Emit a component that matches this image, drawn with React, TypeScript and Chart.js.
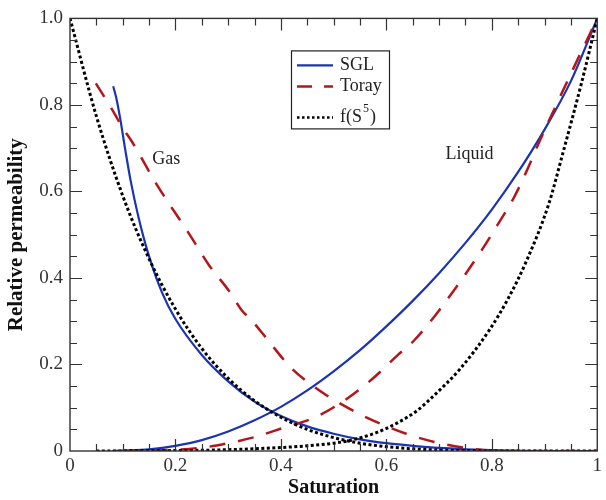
import React, { useEffect, useRef } from "react";
import { Chart, registerables } from "chart.js";

Chart.register(...registerables);

// Saturation / relative permeability readings
const sglGasS = [0.082, 0.088, 0.095, 0.105, 0.115, 0.13, 0.15, 0.175, 0.2, 0.25, 0.3, 0.35, 0.4, 0.45, 0.5, 0.55, 0.6, 0.65, 0.7, 0.75, 0.8, 0.9, 1.0];
const sglGasK = [0.843, 0.815, 0.77, 0.695, 0.625, 0.54, 0.45, 0.365, 0.305, 0.222, 0.161, 0.114, 0.081, 0.057, 0.04, 0.027, 0.018, 0.012, 0.007, 0.004, 0.002, 0.0, 0.0];

const sglLiqS = [0.08, 0.1, 0.15, 0.2, 0.25, 0.3, 0.35, 0.4, 0.45, 0.5, 0.55, 0.6, 0.65, 0.7, 0.75, 0.8, 0.85, 0.9, 0.95, 1.0];
const sglLiqK = [0.0, 0.001, 0.004, 0.012, 0.025, 0.045, 0.071, 0.102, 0.14, 0.184, 0.233, 0.288, 0.347, 0.411, 0.481, 0.558, 0.645, 0.743, 0.855, 1.0];

const torayGasS = [0.049, 0.085, 0.098, 0.117, 0.164, 0.226, 0.264, 0.301, 0.326, 0.343, 0.371, 0.418, 0.467, 0.512, 0.565, 0.635, 0.691, 0.753, 0.815, 0.9, 1.0];
const torayGasK = [0.85, 0.779, 0.75, 0.716, 0.617, 0.502, 0.429, 0.371, 0.325, 0.304, 0.263, 0.194, 0.145, 0.11, 0.076, 0.041, 0.021, 0.007, 0.0, 0.0, 0.0];

const torayLiqS = [0.1, 0.2, 0.264, 0.3, 0.35, 0.408, 0.461, 0.512, 0.571, 0.621, 0.653, 0.7, 0.778, 0.81, 0.842, 0.866, 0.891, 0.955, 1.0];
const torayLiqK = [0.0, 0.003, 0.01, 0.018, 0.032, 0.055, 0.076, 0.11, 0.164, 0.221, 0.256, 0.325, 0.459, 0.521, 0.586, 0.647, 0.717, 0.885, 1.0];

const fGasS = [0, 0.05, 0.1, 0.15, 0.2, 0.25, 0.3, 0.35, 0.4, 0.45, 0.5, 0.55, 0.6, 0.65, 0.7, 0.75, 0.8, 0.9, 1.0];
const fGasK = [1.0, 0.774, 0.59, 0.444, 0.328, 0.237, 0.168, 0.116, 0.078, 0.05, 0.031, 0.018, 0.01, 0.005, 0.002, 0.001, 0.0, 0.0, 0.0];

const fLiqS = [0.05, 0.2, 0.3, 0.4, 0.45, 0.5, 0.533, 0.58, 0.621, 0.659, 0.691, 0.74, 0.795, 0.83, 0.866, 0.908, 0.936, 0.97, 1.0];
const fLiqK = [0.0, 0.001, 0.003, 0.008, 0.012, 0.018, 0.025, 0.042, 0.065, 0.094, 0.129, 0.19, 0.279, 0.35, 0.44, 0.571, 0.694, 0.85, 1.0];

const legendLabels = ["SGL", "Toray", "f(S", "5", ")"];
const regionLabels = ["Gas", "Liquid"];
const xTitle = "Saturation";
const yTitle = "Relative permeability";

const BLUE = "#1a34b2";
const RED = "#b3161b";
const BLACK = "#000000";
const SERIF = '"Liberation Serif", "Times New Roman", serif';

const pts = (xs: number[], ys: number[]) => xs.map((x, i) => ({ x, y: ys[i] }));

const decorPlugin = {
  id: "decor",
  afterDraw(chart: any) {
    const { ctx, chartArea } = chart;
    const { left, right, top, bottom } = chartArea;
    const xs = chart.scales.x;
    const ys = chart.scales.y;
    ctx.save();
    // frame
    ctx.strokeStyle = "#333";
    ctx.lineWidth = 1.4;
    ctx.strokeRect(left, top, right - left, bottom - top);
    // inward ticks
    ctx.lineWidth = 1.2;
    ctx.beginPath();
    for (let i = 1; i < 20; i++) {
      const v = i * 0.05;
      const len = i % 4 === 0 ? 12 : 7;
      const px = Math.round(xs.getPixelForValue(v)) + 0.5;
      const py = Math.round(ys.getPixelForValue(v)) + 0.5;
      ctx.moveTo(px, bottom);
      ctx.lineTo(px, bottom - len);
      ctx.moveTo(px, top);
      ctx.lineTo(px, top + len);
      ctx.moveTo(left, py);
      ctx.lineTo(left + len, py);
      ctx.moveTo(right, py);
      ctx.lineTo(right - len, py);
    }
    ctx.stroke();

    // region labels
    ctx.fillStyle = "#222";
    ctx.font = `18px ${SERIF}`;
    ctx.textAlign = "left";
    ctx.textBaseline = "middle";
    ctx.fillText(regionLabels[0], xs.getPixelForValue(0.156), ys.getPixelForValue(0.675));
    ctx.fillText(regionLabels[1], xs.getPixelForValue(0.712), ys.getPixelForValue(0.687));

    // legend box
    const bx = left + 221;
    const by = top + 32;
    const bw = 98;
    const bh = 78;
    ctx.fillStyle = "#fff";
    ctx.fillRect(bx, by, bw, bh);
    ctx.strokeStyle = "#222";
    ctx.lineWidth = 1.2;
    ctx.strokeRect(bx + 0.5, by + 0.5, bw, bh);
    const rows = [by + 15, by + 36, by + 67];
    const styles = [
      { c: BLUE, w: 2.4, d: [] as number[] },
      { c: RED, w: 2.5, d: [15, 12] },
      { c: BLACK, w: 2.5, d: [2.5, 2.5] },
    ];
    rows.forEach((ry, i) => {
      ctx.beginPath();
      ctx.strokeStyle = styles[i].c;
      ctx.lineWidth = styles[i].w;
      ctx.setLineDash(styles[i].d);
      ctx.moveTo(bx + 6, ry);
      ctx.lineTo(bx + 42, ry);
      ctx.stroke();
    });
    ctx.setLineDash([]);
    ctx.fillStyle = "#222";
    ctx.font = `18px ${SERIF}`;
    ctx.textBaseline = "middle";
    const tx = bx + 49;
    ctx.fillText(legendLabels[0], tx, rows[0]);
    ctx.fillText(legendLabels[1], tx, rows[1]);
    ctx.fillText(legendLabels[2], tx, rows[2]);
    const w1 = ctx.measureText(legendLabels[2]).width;
    ctx.font = `12px ${SERIF}`;
    ctx.fillText(legendLabels[3], tx + w1 + 1, rows[2] - 9);
    const w2 = ctx.measureText(legendLabels[3]).width;
    ctx.font = `18px ${SERIF}`;
    ctx.fillText(legendLabels[4], tx + w1 + w2 + 2, rows[2]);
    ctx.restore();
  },
};

export default function App() {
  const ref = useRef<HTMLCanvasElement | null>(null);
  useEffect(() => {
    document.body.style.margin = "0";
    if (!ref.current) return;
    const lineBase = { pointRadius: 0, fill: false, cubicInterpolationMode: "monotone" as const };
    const chart = new Chart(ref.current, {
      type: "line",
      data: {
        datasets: [
          { ...lineBase, label: "f gas", data: pts(fGasS, fGasK), borderColor: BLACK, borderWidth: 3, borderDash: [3, 2.5] },
          { ...lineBase, label: "f liquid", data: pts(fLiqS, fLiqK), borderColor: BLACK, borderWidth: 3, borderDash: [3, 2.5] },
          { ...lineBase, label: "Toray gas", data: pts(torayGasS, torayGasK), borderColor: RED, borderWidth: 2.5, borderDash: [16, 13] },
          { ...lineBase, label: "Toray liquid", data: pts(torayLiqS, torayLiqK), borderColor: RED, borderWidth: 2.5, borderDash: [16, 13] },
          { ...lineBase, label: "SGL gas", data: pts(sglGasS, sglGasK), borderColor: BLUE, borderWidth: 2.2 },
          { ...lineBase, label: "SGL liquid", data: pts(sglLiqS, sglLiqK), borderColor: BLUE, borderWidth: 2.2 },
        ],
      },
      options: {
        animation: false,
        responsive: false,
        layout: { padding: { top: 17, right: 5, left: 0, bottom: 0 } },
        plugins: { legend: { display: false }, tooltip: { enabled: false } },
        scales: {
          x: {
            type: "linear",
            min: 0,
            max: 1,
            grid: { display: false, drawTicks: false },
            border: { display: false },
            ticks: {
              stepSize: 0.2,
              padding: 4,
              color: "#333",
              font: { family: SERIF, size: 19 },
              callback: (v: any) => {
                const n = Number(v);
                if (Math.abs(n) < 1e-9) return "0";
                if (Math.abs(n - 1) < 1e-9) return "1";
                return n.toFixed(1);
              },
            },
            title: {
              display: true,
              text: xTitle,
              color: "#111",
              font: { family: SERIF, size: 20, weight: "bold" },
              padding: { top: 0, bottom: 0 },
            },
            afterFit: (s: any) => {
              s.height = 49;
            },
          },
          y: {
            type: "linear",
            min: 0,
            max: 1,
            grid: { display: false, drawTicks: false },
            border: { display: false },
            ticks: {
              stepSize: 0.2,
              padding: 7,
              color: "#333",
              font: { family: SERIF, size: 19 },
              callback: (v: any) => {
                const n = Number(v);
                if (Math.abs(n) < 1e-9) return "0";
                return n.toFixed(1);
              },
            },
            title: {
              display: true,
              text: yTitle,
              color: "#111",
              font: { family: SERIF, size: 21, weight: "bold" },
              padding: { top: 4, bottom: 0 },
            },
            afterFit: (s: any) => {
              s.width = 70;
            },
          },
        },
      },
      plugins: [decorPlugin],
    });
    return () => chart.destroy();
  }, []);
  return (
    <div style={{ position: "absolute", left: 0, top: 0, width: 606, height: 500, background: "#fff" }}>
      <canvas ref={ref} width={606} height={500} style={{ display: "block" }} />
    </div>
  );
}
